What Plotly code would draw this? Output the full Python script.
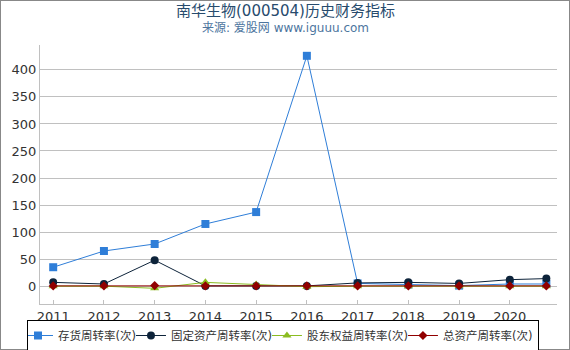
import plotly.graph_objects as go

years = [2011, 2012, 2013, 2014, 2015, 2016, 2017, 2018, 2019, 2020, 2020.72]
tick_years = [2011, 2012, 2013, 2014, 2015, 2016, 2017, 2018, 2019, 2020]
tick_labels = ["2011", "2012", "2013", "2014", "2015", "2016", "2017", "2018", "2019", "2020"]

inventory = [35, 65, 78, 115, 137, 426, 5, 3, 1, 4, 4]
fixed_asset = [7, 4, 48, 0.5, 0.5, 0.5, 6, 7, 5, 12, 14]
equity = [0, 0, -4, 7, 3, -1, 0, 0, 0, 0, 0]
total_asset = [0.5, 0.5, 1, 0.5, 0.5, 0.5, 0.5, 0.5, 0.5, 0.5, 0.5]

names = ["存货周转率(次)", "固定资产周转率(次)", "股东权益周转率(次)", "总资产周转率(次)"]
colors = ["#2f7ed8", "#0d233a", "#8bbc21", "#910000"]
symbols = ["square", "circle", "triangle-up", "diamond"]
sizes = [8, 8, 8, 7]

FONT = "DejaVu Sans, Noto Sans CJK SC"
W, H = 570, 350
ml, mr, mt, mb = 40, 13, 45, 46
pw, ph = W - ml - mr, H - mt - mb

fig = go.Figure()
for vals, name, c, s, sz in zip([inventory, fixed_asset, equity, total_asset], names, colors, symbols, sizes):
    fig.add_trace(go.Scatter(
        x=years, y=vals, name=name, mode="lines+markers",
        line=dict(color=c, width=1),
        marker=dict(symbol=s, size=sz, color=c),
    ))

fig.update_layout(
    width=W, height=H,
    margin=dict(l=ml, r=mr, t=mt, b=mb, autoexpand=False),
    paper_bgcolor="white", plot_bgcolor="white",
    font=dict(family=FONT, color="#333333"),
    xaxis=dict(
        range=[2010.74, 2020.93], tickvals=tick_years, ticktext=tick_labels,
        showgrid=False, zeroline=False, showline=True, linecolor="#c0c0c0",
        ticks="inside", tickcolor="#c0c0c0", ticklen=4,
        tickfont=dict(size=13, color="#333333"),
    ),
    yaxis=dict(
        range=[-33, 446], tickvals=[0, 50, 100, 150, 200, 250, 300, 350, 400],
        showgrid=True, gridcolor="#c0c0c0", zeroline=False,
        showline=True, linecolor="#c0c0c0",
        tickfont=dict(size=13, color="#333333"),
    ),
    legend=dict(
        orientation="h", x=0.47, xanchor="center", y=-16 / ph, yanchor="top",
        bordercolor="#000000", borderwidth=1, bgcolor="white",
        font=dict(size=11.5, color="#333333", family=FONT),
        itemwidth=30, indentation=-10, tracegroupgap=0,
    ),
    showlegend=True,
)

fig.add_annotation(
    text="南华生物(000504)历史财务指标", xref="paper", yref="paper",
    x=0.5 - (ml - mr) / 2 / pw, y=1 + (mt - 11) / ph, xanchor="center", yanchor="middle",
    showarrow=False, font=dict(size=15, color="#274b6d", family=FONT),
)
fig.add_annotation(
    text="来源: 爱股网 www.iguuu.com", xref="paper", yref="paper",
    x=0.5 - (ml - mr) / 2 / pw, y=1 + (mt - 28) / ph, xanchor="center", yanchor="middle",
    showarrow=False, font=dict(size=12, color="#4d759e", family=FONT),
)

fig.add_shape(
    type="rect", xref="paper", yref="paper",
    x0=-ml / pw, x1=1 + mr / pw, y0=-mb / ph, y1=1 + mt / ph,
    line=dict(color="#888888", width=2), layer="above",
)

fig.write_html("out.html")
